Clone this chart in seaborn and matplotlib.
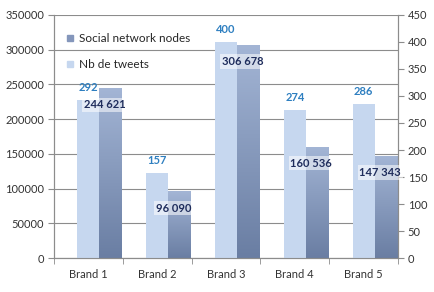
import numpy as np
import pandas as pd
import seaborn as sns
import matplotlib.pyplot as plt
from matplotlib.lines import Line2D

brands = ['Brand 1', 'Brand 2', 'Brand 3', 'Brand 4', 'Brand 5']
nodes = [244621, 96090, 306678, 160536, 147343]
tweets = [292, 157, 400, 274, 286]
node_labels = ['244 621', '96 090', '306 678', '160 536', '147 343']

NODES = 'Social network nodes'
TWEETS = 'Nb de tweets'
# empty first level so tweets sit centred and nodes sit just right of them
order = ['', TWEETS, NODES]

light = '#c6d7ef'
dark = '#8496bb'

df_nodes = pd.DataFrame({'brand': brands, 'value': nodes, 'series': NODES})
df_tweets = pd.DataFrame({'brand': brands, 'value': tweets, 'series': TWEETS})

sns.set_style('white')
plt.rcParams['font.family'] = ['Lato', 'DejaVu Sans']

fig = plt.figure(figsize=(4.35, 2.92), dpi=100)
ax1 = fig.add_axes([0.124, 0.116, 0.791, 0.833])
ax2 = ax1.twinx()

pal = {'': 'white', TWEETS: light, NODES: dark}
sns.barplot(data=df_nodes, x='brand', y='value', hue='series', hue_order=order,
            palette=pal, width=0.96, dodge=True, legend=False, ax=ax1,
            linewidth=0, saturation=1)
sns.barplot(data=df_tweets, x='brand', y='value', hue='series', hue_order=order,
            palette=pal, width=0.96, dodge=True, legend=False, ax=ax2,
            linewidth=0, saturation=1)

# vertical gradient on the node bars
grad = np.linspace(1, 0, 100).reshape(-1, 1)
cmap = sns.blend_palette(['#6a7ea3', '#a3b5d5'], as_cmap=True)
for p in list(ax1.patches):
    if p.get_height() > 0:
        x0, y0 = p.get_x(), p.get_y()
        im = ax1.imshow(grad, extent=[x0, x0 + p.get_width(), y0, y0 + p.get_height()],
                        aspect='auto', cmap=cmap, vmin=0, vmax=1, zorder=p.get_zorder() + 0.1)
        im.set_clip_path(p)

ax1.set_xlim(-0.5, 4.5)
ax1.set_ylim(0, 350000)
ax2.set_ylim(0, 450)
ax1.set_yticks(range(0, 350001, 50000))
ax2.set_yticks(range(0, 451, 50))
ax1.set_xlabel('')
ax1.set_ylabel('')
ax2.set_ylabel('')

ax1.grid(axis='y', color='#8c8c8c', linewidth=0.8)
ax1.set_axisbelow(True)
for a in (ax1, ax2):
    for s in a.spines.values():
        s.set_color('#8c8c8c')
        s.set_linewidth(0.8)
    a.spines['top'].set_visible(False)

ax1.tick_params(axis='y', which='major', length=4, color='#8c8c8c', labelsize=8,
                labelcolor='#333333', left=True, pad=3)
ax2.tick_params(axis='y', which='major', length=4, color='#8c8c8c', labelsize=8,
                labelcolor='#333333', right=True, pad=3)
ax1.set_xticks(np.arange(-0.5, 4.6, 1), minor=True)
ax1.tick_params(axis='x', which='major', length=0, labelsize=8, labelcolor='#333333', pad=8)
ax1.tick_params(axis='x', which='minor', length=4, color='#8c8c8c', bottom=True)

# data labels
for i, v in enumerate(tweets):
    ax2.annotate(str(v), (i, v), xytext=(0, 5), textcoords='offset points',
                 ha='center', va='bottom', fontsize=8, fontweight='bold', color='#2e7fc0')
for i, v in enumerate(nodes):
    ax2.annotate(node_labels[i], (i + 0.32, v * 450 / 350000), xytext=(-4, -12),
                 textcoords='offset points', ha='center', va='center', fontsize=8,
                 fontweight='bold', color='#1f2d5c',
                 bbox=dict(boxstyle='square,pad=0.15', fc='white', ec='none', alpha=0.55))

handles = [Line2D([], [], marker='s', ls='', color=dark, markersize=5),
           Line2D([], [], marker='s', ls='', color=light, markersize=5)]
ax1.legend(handles, [NODES, TWEETS], loc='upper left', bbox_to_anchor=(0.02, 0.945),
           frameon=False, fontsize=8.5, labelspacing=1.3, handletextpad=0.3,
           handlelength=0.8, borderaxespad=0)

fig.savefig('out.png', dpi=100, facecolor='white')
